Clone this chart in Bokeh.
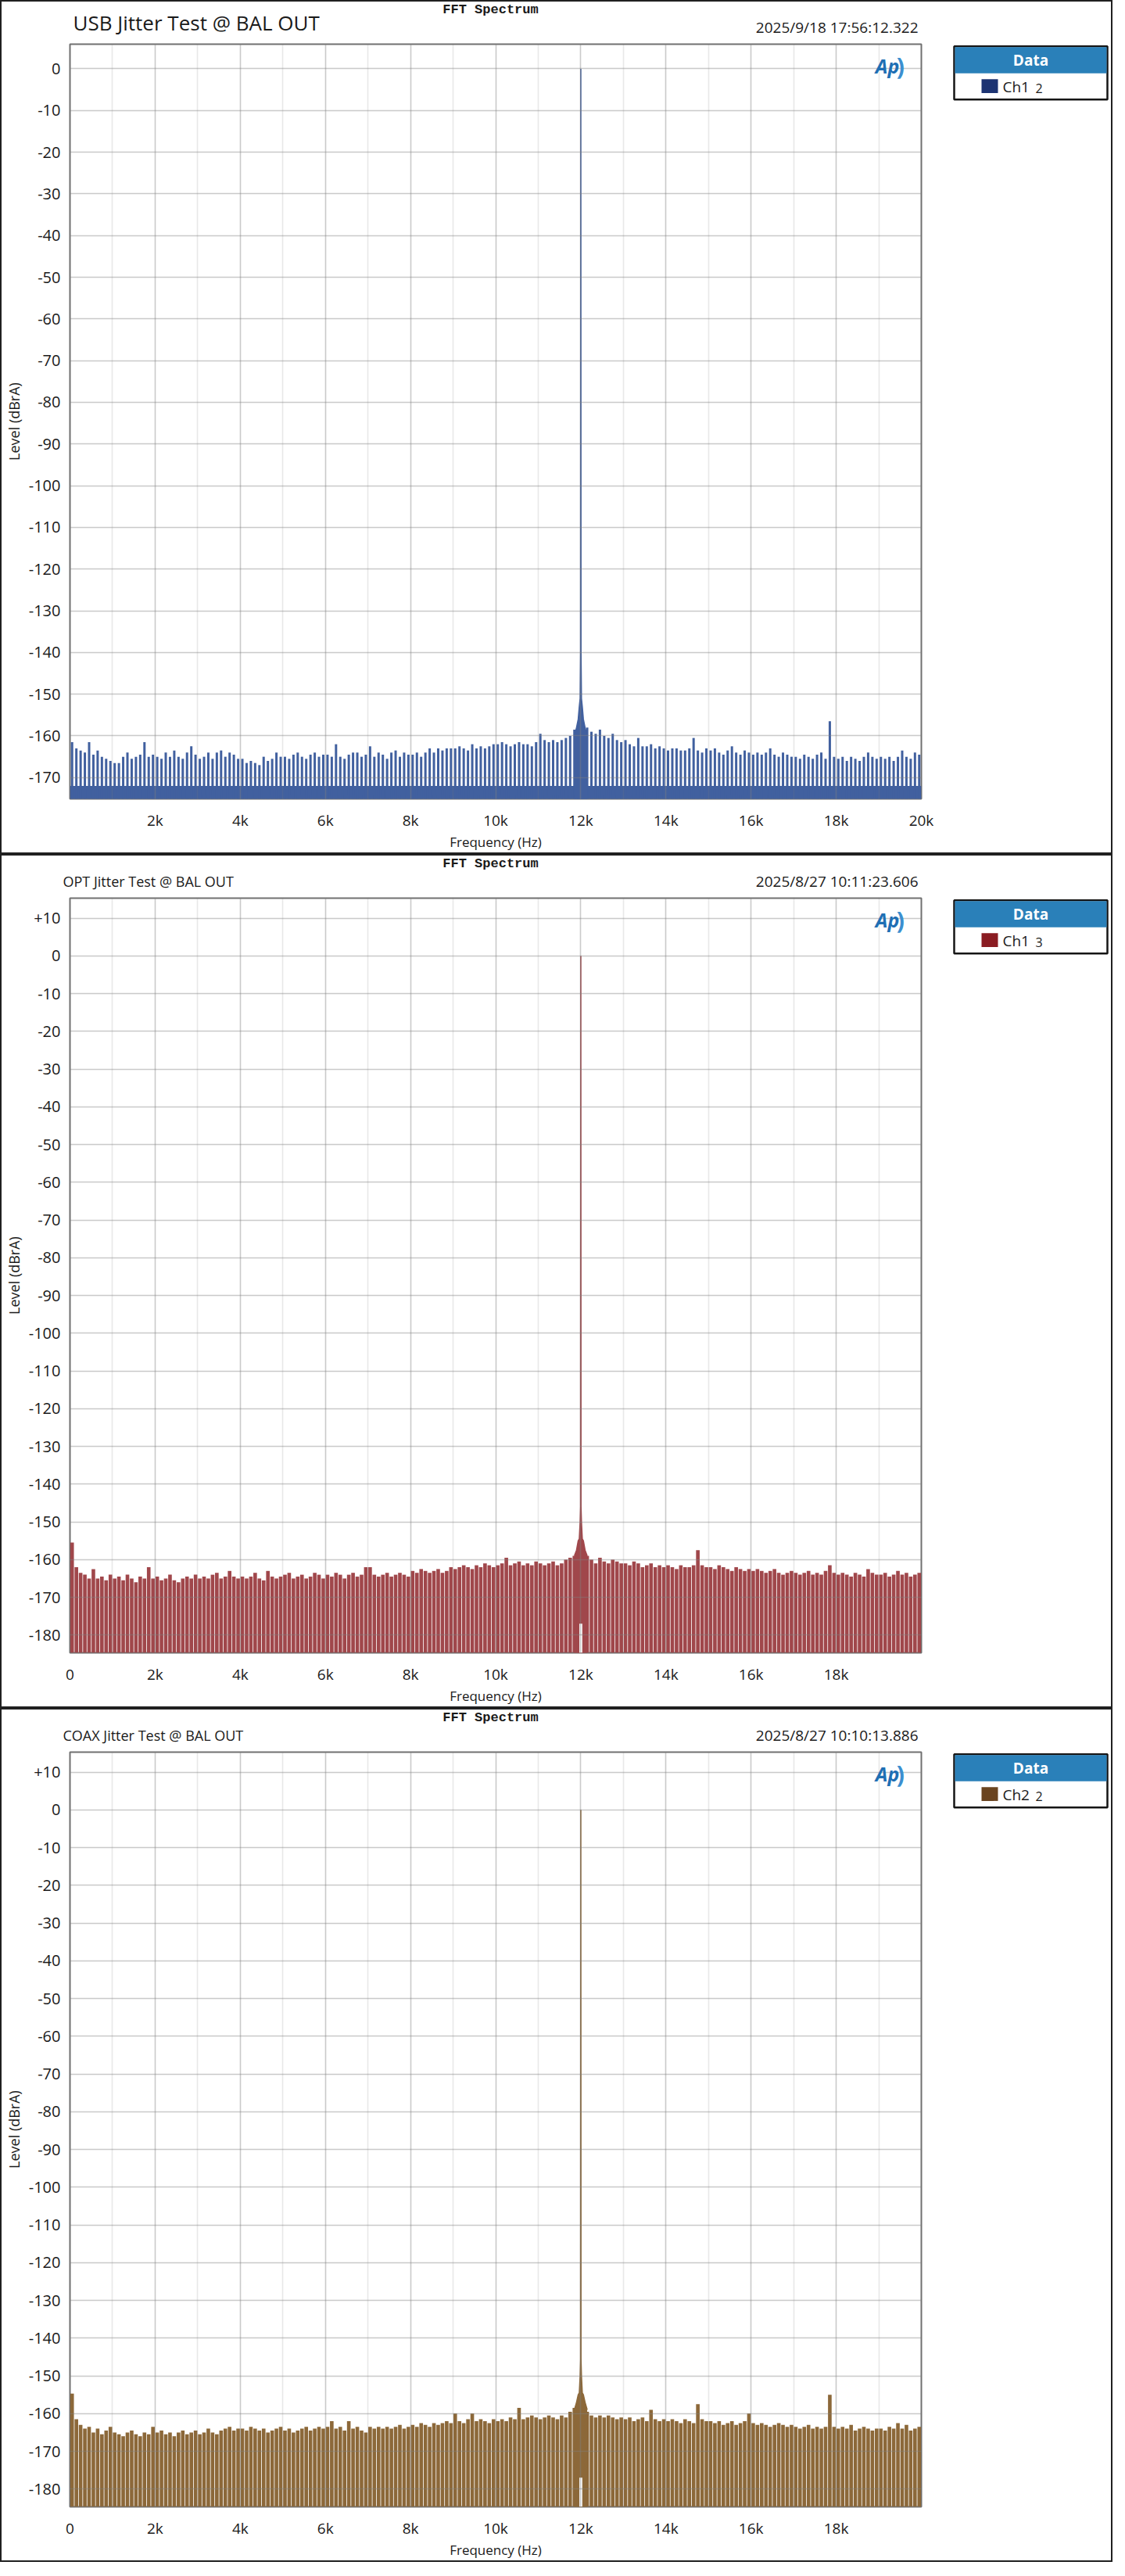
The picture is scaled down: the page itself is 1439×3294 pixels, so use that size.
from bokeh.plotting import figure
from bokeh.models import FixedTicker, Label, BoxAnnotation, Range1d
from bokeh.layouts import column, row
from bokeh.embed import file_html
from bokeh.resources import INLINE

# ---------------- data ----------------
F_SPAN = [0, 20000]
BIN_HZ = 100
FREQ_BINS = [BIN_HZ * i + BIN_HZ / 2 for i in range(200)]

usb_noise_db = [
    -161.5, -163, -163.5, -164, -161.5, -164.5, -163.5, -165, -165.5, -166,
    -166.5, -166.5, -165, -164, -165.5, -165, -164.5, -161.5, -165, -164.5,
    -165, -165.5, -164, -165, -163.5, -165, -165.5, -164, -162.5, -164.5,
    -165.5, -165, -164, -165.5, -164, -163.5, -165, -164, -164.5, -165.5,
    -165.5, -166.5, -166, -166.5, -167, -165, -166, -165.5, -164, -165,
    -165, -165.5, -164.5, -164, -165, -165.5, -164.5, -164, -165, -164.5,
    -164.5, -165, -162, -165, -165.5, -164.5, -164, -164, -165, -164.5,
    -162.5, -165, -164, -164.5, -165.5, -164, -163.5, -165, -164, -164.5,
    -164.5, -164, -165, -164, -163, -164, -163, -163.5, -163, -163,
    -163, -162.5, -163, -163.5, -162, -163, -162.5, -163, -162.5, -162,
    -162, -161.5, -162, -162.5, -162, -161.5, -162, -162, -162.5, -161.5,
    -159.5, -161, -161.5, -161, -161.5, -161, -160.5, -160, -158.5, -157,
    -157.5, -158, -159, -159.5, -158.5, -160, -160.5, -159.5, -161, -161.5,
    -161, -162, -162.5, -160.5, -162.5, -162.5, -162, -163, -162.5, -163,
    -163.5, -163, -163, -163.5, -163.5, -163, -160.5, -163.5, -164, -163,
    -163.5, -163, -164, -164.5, -163.5, -162.5, -164, -164.5, -163.5, -164,
    -164.5, -164, -164.5, -164, -163, -164.5, -165, -164, -164.5, -165,
    -165, -165.5, -164.5, -165, -165.5, -164.5, -164, -165.5, -156.5, -165,
    -165.5, -165, -166, -165, -165.5, -166, -165, -164, -165, -165.5,
    -165, -165.5, -165, -166, -165, -163.5, -165, -165.5, -164, -164.5,
]
usb_floor_db = -172.0
usb_carrier_hz = [11850, 11900, 11940, 11965, 11985, 11995, 12000, 12005, 12015, 12035, 12060, 12100, 12150]
usb_carrier_db = [-160, -158, -156, -153, -151, -140, 0, -140, -151, -153, -156, -158, -160]

opt_noise_db = [
    -155.5, -162, -163.5, -164, -165, -162.5, -165, -164.5, -165.5, -164,
    -165, -164.5, -165.5, -164, -165, -166, -164.5, -165, -162, -165,
    -164.5, -165.5, -165, -164, -165.5, -166, -165, -164.5, -165, -164,
    -165, -164.5, -165, -164, -163.5, -165, -164.5, -163, -164.5, -165,
    -164.5, -165, -164.5, -163.5, -165, -165.5, -163, -164.5, -165, -164.5,
    -164, -163.5, -165, -164.5, -164, -165, -164.5, -163.5, -164, -165,
    -164, -164.5, -163.5, -164, -165, -164, -163.5, -164.5, -164, -162,
    -162, -164, -164.5, -164, -163.5, -164.5, -164, -163.5, -164, -164.5,
    -163, -163.5, -162.5, -163, -163.5, -163, -162.5, -163.5, -163, -162,
    -162.5, -162, -161.5, -162, -162.5, -161.5, -162, -161, -161.5, -162,
    -161.5, -161, -159.5, -161.5, -161, -160.5, -161.5, -161, -161.5, -160.5,
    -161, -161.5, -161, -160.5, -161.5, -161, -160, -159.5, -159, -158,
    -158, -159, -160, -161, -159.5, -160.5, -161, -160, -160.5, -161,
    -161, -161.5, -160.5, -161, -162, -161.5, -161, -162, -161.5, -162,
    -161.5, -162, -162.5, -161.5, -162, -162, -161.5, -157.5, -161.5, -162,
    -162, -162.5, -161.5, -162, -162.5, -163, -162, -162.5, -163, -162.5,
    -163, -162.5, -163, -163.5, -163, -162.5, -163.5, -164, -163.5, -163,
    -163.5, -164, -163.5, -163, -164, -163.5, -164, -163, -161.5, -163.5,
    -164, -163.5, -164, -164.5, -163.5, -164, -164.5, -162.5, -163.5, -164,
    -164, -163.5, -164.5, -164, -163, -164, -163.5, -164.5, -164, -163.5,
]
opt_carrier_hz = [11850, 11900, 11940, 11965, 11985, 11995, 12000, 12005, 12015, 12035, 12060, 12100, 12150]
opt_carrier_db = [-159, -157.5, -155, -154.5, -150, -146, 0, -146, -150, -154.5, -155, -157.5, -159]

coax_noise_db = [
    -154.7, -161.5, -163, -164, -163.5, -165, -164, -165.5, -164.5, -163.5,
    -165, -165.5, -166, -165, -164.5, -165.5, -166, -165, -165.5, -163.5,
    -165, -164.5, -165.5, -165, -166, -165, -164.5, -165.5, -165, -164.5,
    -165.5, -165, -164, -165, -165.5, -164.5, -164, -163.5, -164.5, -164,
    -164, -164.5, -163.5, -164, -164.5, -164, -165, -164.5, -164, -163.5,
    -164.5, -164, -165, -164.5, -164, -163.5, -164.5, -164, -163.5, -164,
    -163.5, -162, -164, -163.5, -164.5, -162, -164, -163.5, -164.5, -165,
    -163.5, -164, -163.5, -164, -163.5, -164, -163.5, -163, -164, -163.5,
    -163, -163.5, -162.5, -163, -163.5, -162.5, -163, -162.5, -162, -162.5,
    -160, -162, -162.5, -161.5, -160, -162, -161.5, -162, -162.5, -161.5,
    -162, -161.5, -162, -161, -161.5, -158.5, -161.5, -161, -160.5, -161,
    -161.5, -161, -160.5, -161, -161.5, -160.5, -161, -159.5, -158.5, -157.5,
    -158, -159.5, -160.5, -161, -160.5, -161, -160.5, -161, -161.5, -161,
    -161.5, -161, -162, -161.5, -161, -162, -159, -161.5, -162, -161.5,
    -162, -161.5, -162, -162.5, -161.5, -162, -162.5, -157.5, -161.5, -162,
    -162, -162.5, -162, -163, -162.5, -162, -163, -162.5, -162, -160,
    -162.5, -163, -162.5, -163, -163.5, -163, -162.5, -163, -163.5, -163,
    -163.5, -164, -163.5, -163, -164, -163.5, -164, -163.5, -155, -163.5,
    -164, -163.5, -164, -163, -164.5, -164, -163.5, -164, -164.5, -164,
    -164, -164.5, -163.5, -164, -162.5, -164, -163, -164.5, -164, -163.5,
]
coax_carrier_hz = [11850, 11900, 11940, 11965, 11985, 11995, 12000, 12005, 12015, 12035, 12060, 12100, 12150]
coax_carrier_db = [-159, -157, -155, -154.5, -150, -145.7, 0, -145.7, -150, -154.5, -155, -157, -159]

notch_hz = 12000
notch_width_hz = 70
notch_top_db = -177

usb_xticks = [2000, 4000, 6000, 8000, 10000, 12000, 14000, 16000, 18000, 20000]
usb_xlabels = ["2k", "4k", "6k", "8k", "10k", "12k", "14k", "16k", "18k", "20k"]
spdif_xticks = [0, 2000, 4000, 6000, 8000, 10000, 12000, 14000, 16000, 18000]
spdif_xlabels = ["0", "2k", "4k", "6k", "8k", "10k", "12k", "14k", "16k", "18k"]
grid_major_hz = [2000, 4000, 6000, 8000, 10000, 12000, 14000, 16000, 18000]
grid_minor_hz = [1000, 3000, 5000, 7000, 9000, 11000, 13000, 15000, 17000, 19000]

usb_yticks = [0, -10, -20, -30, -40, -50, -60, -70, -80, -90, -100, -110, -120, -130, -140, -150, -160, -170]
usb_ylabels = ["0", "-10", "-20", "-30", "-40", "-50", "-60", "-70", "-80", "-90", "-100",
               "-110", "-120", "-130", "-140", "-150", "-160", "-170"]
spdif_yticks = [10, 0, -10, -20, -30, -40, -50, -60, -70, -80, -90, -100, -110, -120, -130,
                -140, -150, -160, -170, -180]
spdif_ylabels = ["+10", "0", "-10", "-20", "-30", "-40", "-50", "-60", "-70", "-80", "-90", "-100",
                 "-110", "-120", "-130", "-140", "-150", "-160", "-170", "-180"]

usb_yrange = (-175.1, 5.9)
spdif_yrange = (-184.7, 15.3)

PANELS = [
    dict(title="USB Jitter Test @ BAL OUT", big=True, stamp="2025/9/18 17:56:12.322",
         noise=usb_noise_db, floor=usb_floor_db, chf=usb_carrier_hz, chd=usb_carrier_db,
         notch=False, yr=usb_yrange, yt=usb_yticks, yl=usb_ylabels, xt=usb_xticks, xl=usb_xlabels,
         color="#41609f", swatch="#1c3372", ch="Ch1", sub="2", bar_w=55),
    dict(title="OPT Jitter Test @ BAL OUT", big=False, stamp="2025/8/27 10:11:23.606",
         noise=opt_noise_db, floor=None, chf=opt_carrier_hz, chd=opt_carrier_db,
         notch=True, yr=spdif_yrange, yt=spdif_yticks, yl=spdif_ylabels, xt=spdif_xticks, xl=spdif_xlabels,
         color="#a0474b", swatch="#8a1c22", ch="Ch1", sub="3", bar_w=85),
    dict(title="COAX Jitter Test @ BAL OUT", big=False, stamp="2025/8/27 10:10:13.886",
         noise=coax_noise_db, floor=None, chf=coax_carrier_hz, chd=coax_carrier_db,
         notch=True, yr=spdif_yrange, yt=spdif_yticks, yl=spdif_ylabels, xt=spdif_xticks, xl=spdif_xlabels,
         color="#8c6839", swatch="#6a4420", ch="Ch2", sub="2", bar_w=85),
]

# ---------------- layout constants (pixels) ----------------
CW, CH = 1419, 1088          # inner size of one panel (a 2px border goes round it)
HH = 52                      # header strip height
ML, MR, MT, MB = 74, 20, 2, 52
FW = 1102
PW = ML + FW + MR            # plot figure width
PH = CH - HH                 # plot figure height
FH = PH - MT - MB
LW = CW - PW                 # legend strip width
FONT = "Open Sans"
TXT = "#1a1a1a"
BOTTOM = -200


def lbl(p, x, y, text, size, align="left", font=FONT, style="normal", color=TXT):
    p.add_layout(Label(x=x, y=y, text=text,
                       text_font=font, text_font_size=size, text_font_style=style,
                       text_color=color, text_align=align, text_baseline="middle"))


def box(p, l, r, t, b, fill, line=None, lw=1):
    p.add_layout(BoxAnnotation(left=l, right=r, top=t, bottom=b,
                               fill_color=fill, fill_alpha=1.0,
                               line_color=line, line_width=lw, line_alpha=1.0 if line else 0))


def blank(w, h):
    f = figure(width=w, height=h, x_range=Range1d(0, w), y_range=Range1d(0, h),
               output_backend="svg", toolbar_location=None, title=None,
               x_axis_location=None, y_axis_location=None,
               min_border=0, min_border_left=0, min_border_right=0,
               min_border_top=0, min_border_bottom=0)
    f.outline_line_color = None
    f.grid.grid_line_color = None
    f.background_fill_color = "white"
    f.border_fill_color = "white"
    return f


def make_panel(cfg):
    c = cfg["color"]

    # ---- header strip: FFT Spectrum / title / timestamp (coords = pixels from bottom-left)
    h = blank(CW, HH)
    lbl(h, ML + FW / 2, HH - 10, "FFT Spectrum", "17px", align="center",
        font="Liberation Mono", style="bold")
    if cfg["big"]:
        lbl(h, ML + 17, 26, cfg["title"], "26px")
    else:
        lbl(h, ML + 4, 20, cfg["title"], "18px")
    lbl(h, ML + FW - 4, 20, cfg["stamp"], "19px", align="right")

    # ---- the spectrum
    p = figure(width=PW, height=PH, x_range=tuple(F_SPAN), y_range=cfg["yr"],
               output_backend="svg", toolbar_location=None, title=None,
               min_border_left=ML, min_border_right=MR, min_border_top=MT, min_border_bottom=MB)
    p.background_fill_color = "white"
    p.border_fill_color = "white"
    p.outline_line_color = "#707070"
    p.outline_line_width = 2

    if cfg["floor"] is not None:
        p.varea(x=F_SPAN, y1=BOTTOM, y2=cfg["floor"], fill_color=c)
    p.vbar(x=FREQ_BINS, width=cfg["bar_w"], top=cfg["noise"], bottom=BOTTOM,
           fill_color=c, line_color=None)
    p.varea(x=cfg["chf"], y1=BOTTOM, y2=cfg["chd"], fill_color=c)
    if cfg["notch"]:
        p.vbar(x=[notch_hz], width=notch_width_hz, top=notch_top_db, bottom=BOTTOM,
               fill_color="white", line_color=None)
    p.line(cfg["chf"], cfg["chd"], line_color=c, line_width=1.6)

    p.xaxis.ticker = FixedTicker(ticks=cfg["xt"])
    p.xaxis.major_label_overrides = {t: s for t, s in zip(cfg["xt"], cfg["xl"])}
    p.yaxis.ticker = FixedTicker(ticks=cfg["yt"])
    p.yaxis.major_label_overrides = {t: s for t, s in zip(cfg["yt"], cfg["yl"])}
    for ax in (p.xaxis, p.yaxis):
        ax.major_tick_line_color = None
        ax.minor_tick_line_color = None
        ax.axis_line_color = None
        ax.major_label_text_font = FONT
        ax.major_label_text_color = TXT
        ax.axis_label_text_font = FONT
        ax.axis_label_text_font_style = "normal"
        ax.axis_label_text_color = TXT
    p.xaxis.major_label_text_font_size = "19px"
    p.yaxis.major_label_text_font_size = "20px"
    p.xaxis.major_label_standoff = 8
    p.yaxis.major_label_standoff = 6
    p.xaxis.axis_label = "Frequency (Hz)"
    p.yaxis.axis_label = "Level (dBrA)"
    p.xaxis.axis_label_text_font_size = "17px"
    p.yaxis.axis_label_text_font_size = "18px"
    p.xaxis.axis_label_standoff = 0
    p.yaxis.axis_label_standoff = 4

    p.xgrid.ticker = FixedTicker(ticks=grid_major_hz, minor_ticks=grid_minor_hz)
    p.ygrid.ticker = FixedTicker(ticks=cfg["yt"])
    for g in (p.xgrid, p.ygrid):
        g.level = "annotation"
        g.grid_line_color = "#808080"
        g.grid_line_alpha = 0.42
        g.grid_line_width = 1.6
    p.xgrid.minor_grid_line_color = "#808080"
    p.xgrid.minor_grid_line_alpha = 0.18
    p.xgrid.minor_grid_line_width = 1.6

    # AP logo, placed a fixed number of pixels from the frame's top-right corner
    hz_per_px = (F_SPAN[1] - F_SPAN[0]) / FW
    db_per_px = (cfg["yr"][1] - cfg["yr"][0]) / FH
    lbl(p, F_SPAN[1] - 44 * hz_per_px, cfg["yr"][1] - 28 * db_per_px, "Ap", "25px",
        align="center", style="bold italic", color="#1f6fb4")
    lbl(p, F_SPAN[1] - 27 * hz_per_px, cfg["yr"][1] - 29 * db_per_px, ")", "30px",
        align="center", style="bold", color="#3b8fd0")

    # ---- legend strip (coords = pixels from bottom-left)
    lg = blank(LW, PH)
    L0, L1 = 22, LW - 5
    T0 = PH - MT - 1
    box(lg, L0, L1, T0, T0 - 73, "white", "#151515", 2.5)
    box(lg, L0 + 1, L1 - 1, T0 - 1, T0 - 37, "#2a80b9")
    lbl(lg, (L0 + L1) / 2, T0 - 19, "Data", "19px", align="center", style="bold", color="white")
    box(lg, L0 + 35, L0 + 56, T0 - 45, T0 - 64, cfg["swatch"])
    lbl(lg, L0 + 62, T0 - 55, cfg["ch"], "19px")
    lbl(lg, L0 + 104, T0 - 58, cfg["sub"], "16px")

    return column(h, row(p, lg, spacing=0), spacing=0,
                  styles={"border": "2px solid #202020"})


panels = [make_panel(cfg) for cfg in PANELS]
layout = column(*panels, spacing=0)
open("out.html", "w").write(file_html(layout, INLINE))
